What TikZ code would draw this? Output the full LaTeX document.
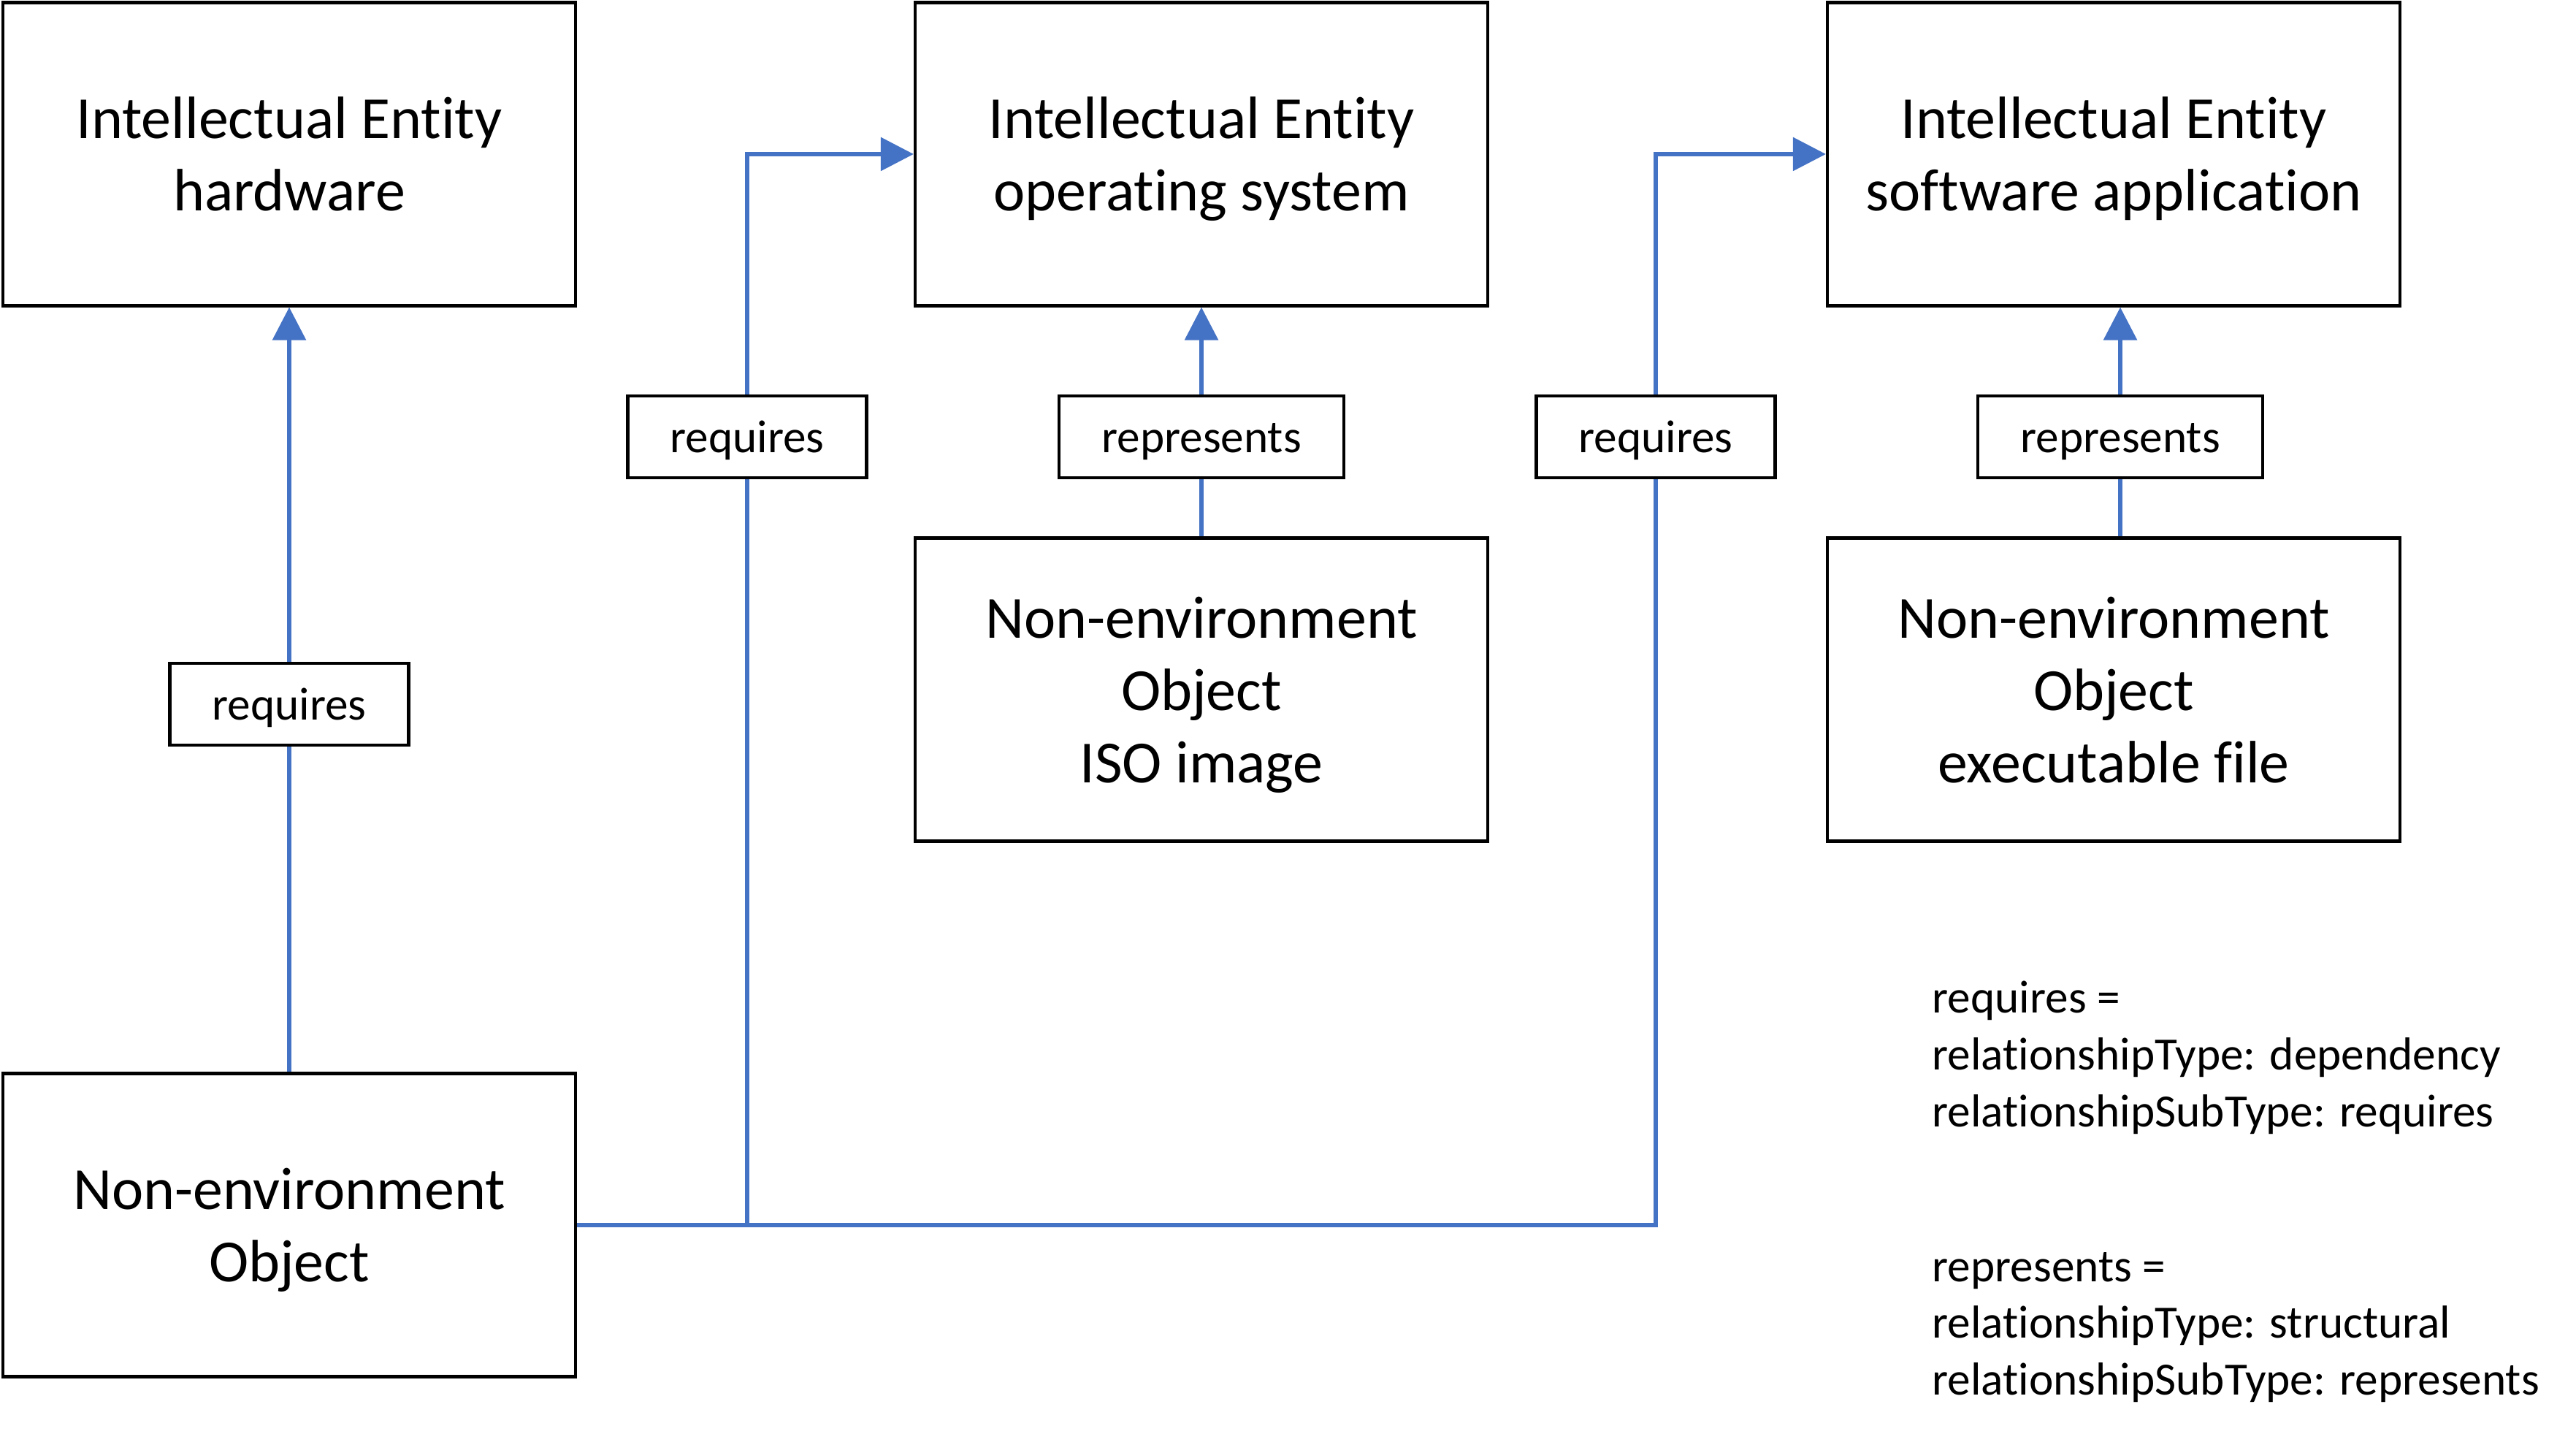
\documentclass[tikz,border=0pt]{standalone}
\usepackage{fontspec}
\setmainfont{Carlito}[Ligatures={NoCommon,NoContextual}]
\usepackage{xcolor}
\usepackage{tikz}
\usetikzlibrary{shapes.geometric, arrows, arrows.meta}
\definecolor{linkblue}{HTML}{4472C4}
\tikzstyle{entity} = [rectangle, minimum width=7.84cm, minimum height=4.15cm, text depth=-1.2pt, text centered, align=center, draw=black, line width=1.2pt, font=\fontsize{23.3}{28.2}\selectfont]
\tikzstyle{relation} = [rectangle, minimum height=1.12cm, inner xsep=0.58cm, text height=18pt, text depth=5.8pt, text centered, draw=black, line width=1.2pt, fill=white, font=\fontsize{18}{21.8}\selectfont]
\tikzstyle{legend} = [align=left, anchor=west, inner sep=0pt, font=\fontsize{18}{22.1}\selectfont]
\tikzstyle{link} = [draw=linkblue, line width=1.7pt]
\tikzstyle{arrow} = [link, -{Triangle[length=0.45cm, width=0.45cm]}]

\begin{document}
\begin{tikzpicture}[node distance=12.49cm]
        \useasboundingbox (0,0) rectangle (35.27,19.63);
        \node (hw) [entity] at (3.96,17.52) {Intellectual Entity\\hardware};
        \node (os) [entity, right of=hw] {Intellectual Entity\\operating system};
        \node (sw) [entity, right of=os] {Intellectual Entity\\software application};
        \node (iso) [entity, below of=os, node distance=7.33cm] {Non-environment\\Object\\ISO image};
        \node (exe) [entity, below of=sw, node distance=7.33cm] {Non-environment\\Object\\executable file};
        \node (obj) [entity, below of=hw, node distance=14.66cm] {Non-environment\\Object};
        
        \node (req1) [relation, below of=hw, node distance=7.53cm] {requires};
        \node (rep1) [relation, below of=os, node distance=3.87cm] {represents};
        \node (req2) [relation, left of=rep1, node distance=6.22cm] {requires};
        \node (rep2) [relation, below of=sw, node distance=3.87cm, xshift=0.09cm] {represents};
        \node (req3) [relation, left of=rep2, node distance=6.36cm] {requires};
        
        \draw [link] (obj) -- (req1);
        \draw [arrow] (req1) -- (hw);
        
        \draw [link] (obj.east) -| (req2);
        \draw [arrow] (req2) |- (os.west);
        
        \draw [link] (obj.east) -| (req3);
        \draw [arrow] (req3) |- (sw.west);
        
        \draw [link] (iso) -- (rep1);
        \draw [arrow] (rep1) -- (os);
        
        \draw [link] (exe.north -| rep2) -- (rep2);
        \draw [arrow] (rep2) -- (rep2 |- sw.south);
        
        % key to the two relationship labels
        \node (reqkey) [legend] at (26.45,5.15) {requires =\\relationshipType: dependency\\relationshipSubType: requires};
        \node (repkey) [legend] at (26.45,1.46) {represents =\\relationshipType: structural\\relationshipSubType: represents};
        
    \end{tikzpicture}
\end{document}
